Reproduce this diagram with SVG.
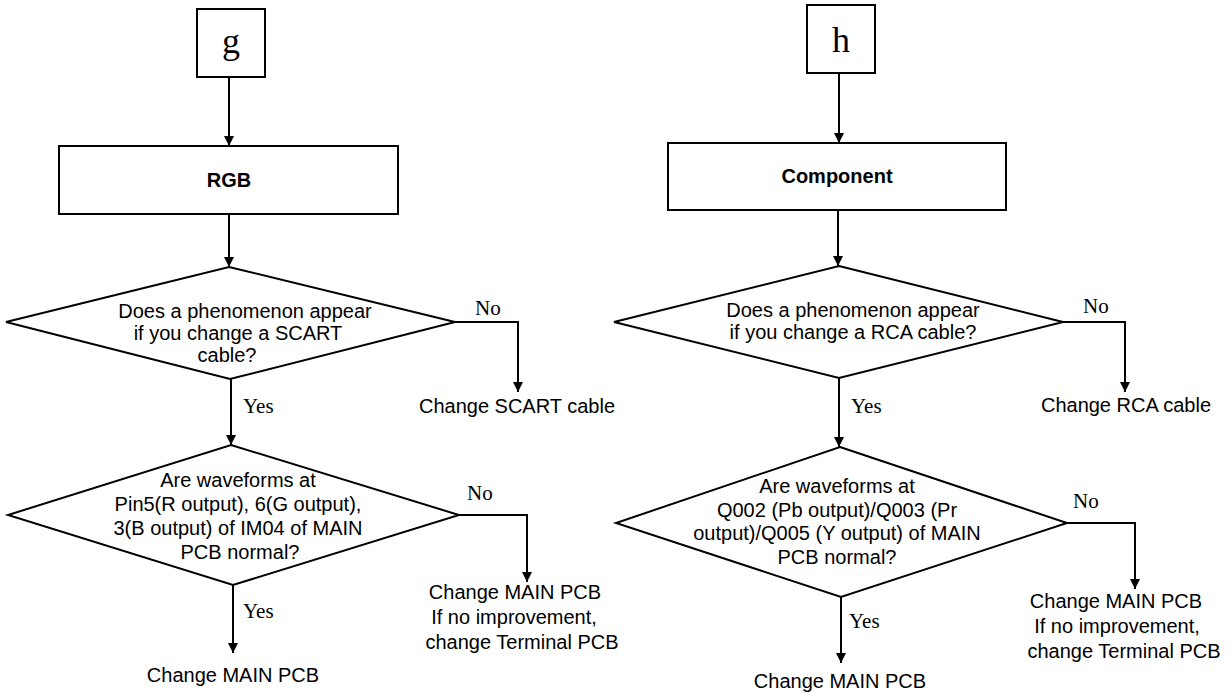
<svg xmlns="http://www.w3.org/2000/svg" width="1231" height="693" viewBox="0 0 1231 693">
<defs>
<marker id="arr" markerUnits="userSpaceOnUse" markerWidth="10" markerHeight="12" refX="10" refY="5" orient="auto">
<path d="M0,0 L10,5 L0,10 Z" fill="#000"/>
</marker>
<style>
.shape{fill:#fff;stroke:#000;stroke-width:2}
.conn{fill:none;stroke:#000;stroke-width:2;marker-end:url(#arr)}
.t{font-family:"Liberation Sans",Arial,sans-serif;font-size:20px;fill:#000;text-anchor:middle}
.b{font-family:"Liberation Sans",Arial,sans-serif;font-size:20px;font-weight:bold;fill:#000;text-anchor:middle}
.s{font-family:"Liberation Serif","Times New Roman",serif;font-size:21px;fill:#000}
.big{font-family:"Liberation Serif","Times New Roman",serif;font-size:36px;fill:#000;text-anchor:middle}
</style>
</defs>
<rect width="1231" height="693" fill="#fff"/>
<g id="connectors">
<path class="conn" d="M229,77 L229,146"/>
<path class="conn" d="M229,214 L229,267"/>
<path class="conn" d="M455,322 L518,322 L518,392"/>
<path class="conn" d="M231,379 L231,445"/>
<path class="conn" d="M459,515 L527,515 L527,582"/>
<path class="conn" d="M233,585 L233,653"/>
<path class="conn" d="M839,73 L839,143"/>
<path class="conn" d="M838,210 L838,266"/>
<path class="conn" d="M1063,322 L1125,322 L1125,392"/>
<path class="conn" d="M839,378 L839,447"/>
<path class="conn" d="M1067,523 L1135,523 L1135,589"/>
<path class="conn" d="M841,597 L841,663"/>
<text class="s" x="475" y="315">No</text>
<text class="s" x="243" y="413">Yes</text>
<text class="s" x="467" y="500">No</text>
<text class="s" x="243" y="618">Yes</text>
<text class="s" x="1083" y="313">No</text>
<text class="s" x="851" y="413">Yes</text>
<text class="s" x="1073" y="508">No</text>
<text class="s" x="849" y="628">Yes</text>
</g>
<g id="g-start">
<rect class="shape" x="197" y="9" width="68" height="68"/>
<text class="big" x="231" y="53">g</text>
</g>
<g id="rgb">
<rect class="shape" x="59" y="146" width="339" height="68"/>
<text class="b" x="229" y="187">RGB</text>
</g>
<g id="q-scart">
<polygon class="shape" points="229,267 455,322 230,379 6,322"/>
<text class="t" x="245" y="318">Does a phenomenon appear</text>
<text class="t" x="238" y="340">if you change a SCART</text>
<text class="t" x="227" y="362">cable?</text>
</g>
<g id="change-scart">
<text class="t" x="517" y="413">Change SCART cable</text>
</g>
<g id="q-rgb-wave">
<polygon class="shape" points="231,445 459,515 233,585 8,515"/>
<text class="t" x="238" y="487">Are waveforms at</text>
<text class="t" x="238" y="511">Pin5(R output), 6(G output),</text>
<text class="t" x="238" y="535">3(B output) of IM04 of MAIN</text>
<text class="t" x="240" y="559">PCB normal?</text>
</g>
<g id="change-main-terminal-l">
<text class="t" x="515" y="599">Change MAIN PCB</text>
<text class="t" x="514" y="624">If no improvement,</text>
<text class="t" x="522" y="649">change Terminal PCB</text>
</g>
<g id="change-main-l">
<text class="t" x="233" y="682">Change MAIN PCB</text>
</g>
<g id="h-start">
<rect class="shape" x="807" y="5" width="68" height="68"/>
<text class="big" x="841" y="52">h</text>
</g>
<g id="component">
<rect class="shape" x="668" y="143" width="338" height="67"/>
<text class="b" x="837" y="183">Component</text>
</g>
<g id="q-rca">
<polygon class="shape" points="839,266 1063,322 839,378 614,322"/>
<text class="t" x="853" y="317">Does a phenomenon appear</text>
<text class="t" x="853" y="339">if you change a RCA cable?</text>
</g>
<g id="change-rca">
<text class="t" x="1126" y="412">Change RCA cable</text>
</g>
<g id="q-comp-wave">
<polygon class="shape" points="840,447 1067,523 841,597 616,523"/>
<text class="t" x="837" y="493">Are waveforms at</text>
<text class="t" x="837" y="517">Q002 (Pb output)/Q003 (Pr</text>
<text class="t" x="837" y="540">output)/Q005 (Y output) of MAIN</text>
<text class="t" x="837" y="564">PCB normal?</text>
</g>
<g id="change-main-terminal-r">
<text class="t" x="1116" y="608">Change MAIN PCB</text>
<text class="t" x="1117" y="633">If no improvement,</text>
<text class="t" x="1124" y="658">change Terminal PCB</text>
</g>
<g id="change-main-r">
<text class="t" x="840" y="688">Change MAIN PCB</text>
</g>
</svg>
